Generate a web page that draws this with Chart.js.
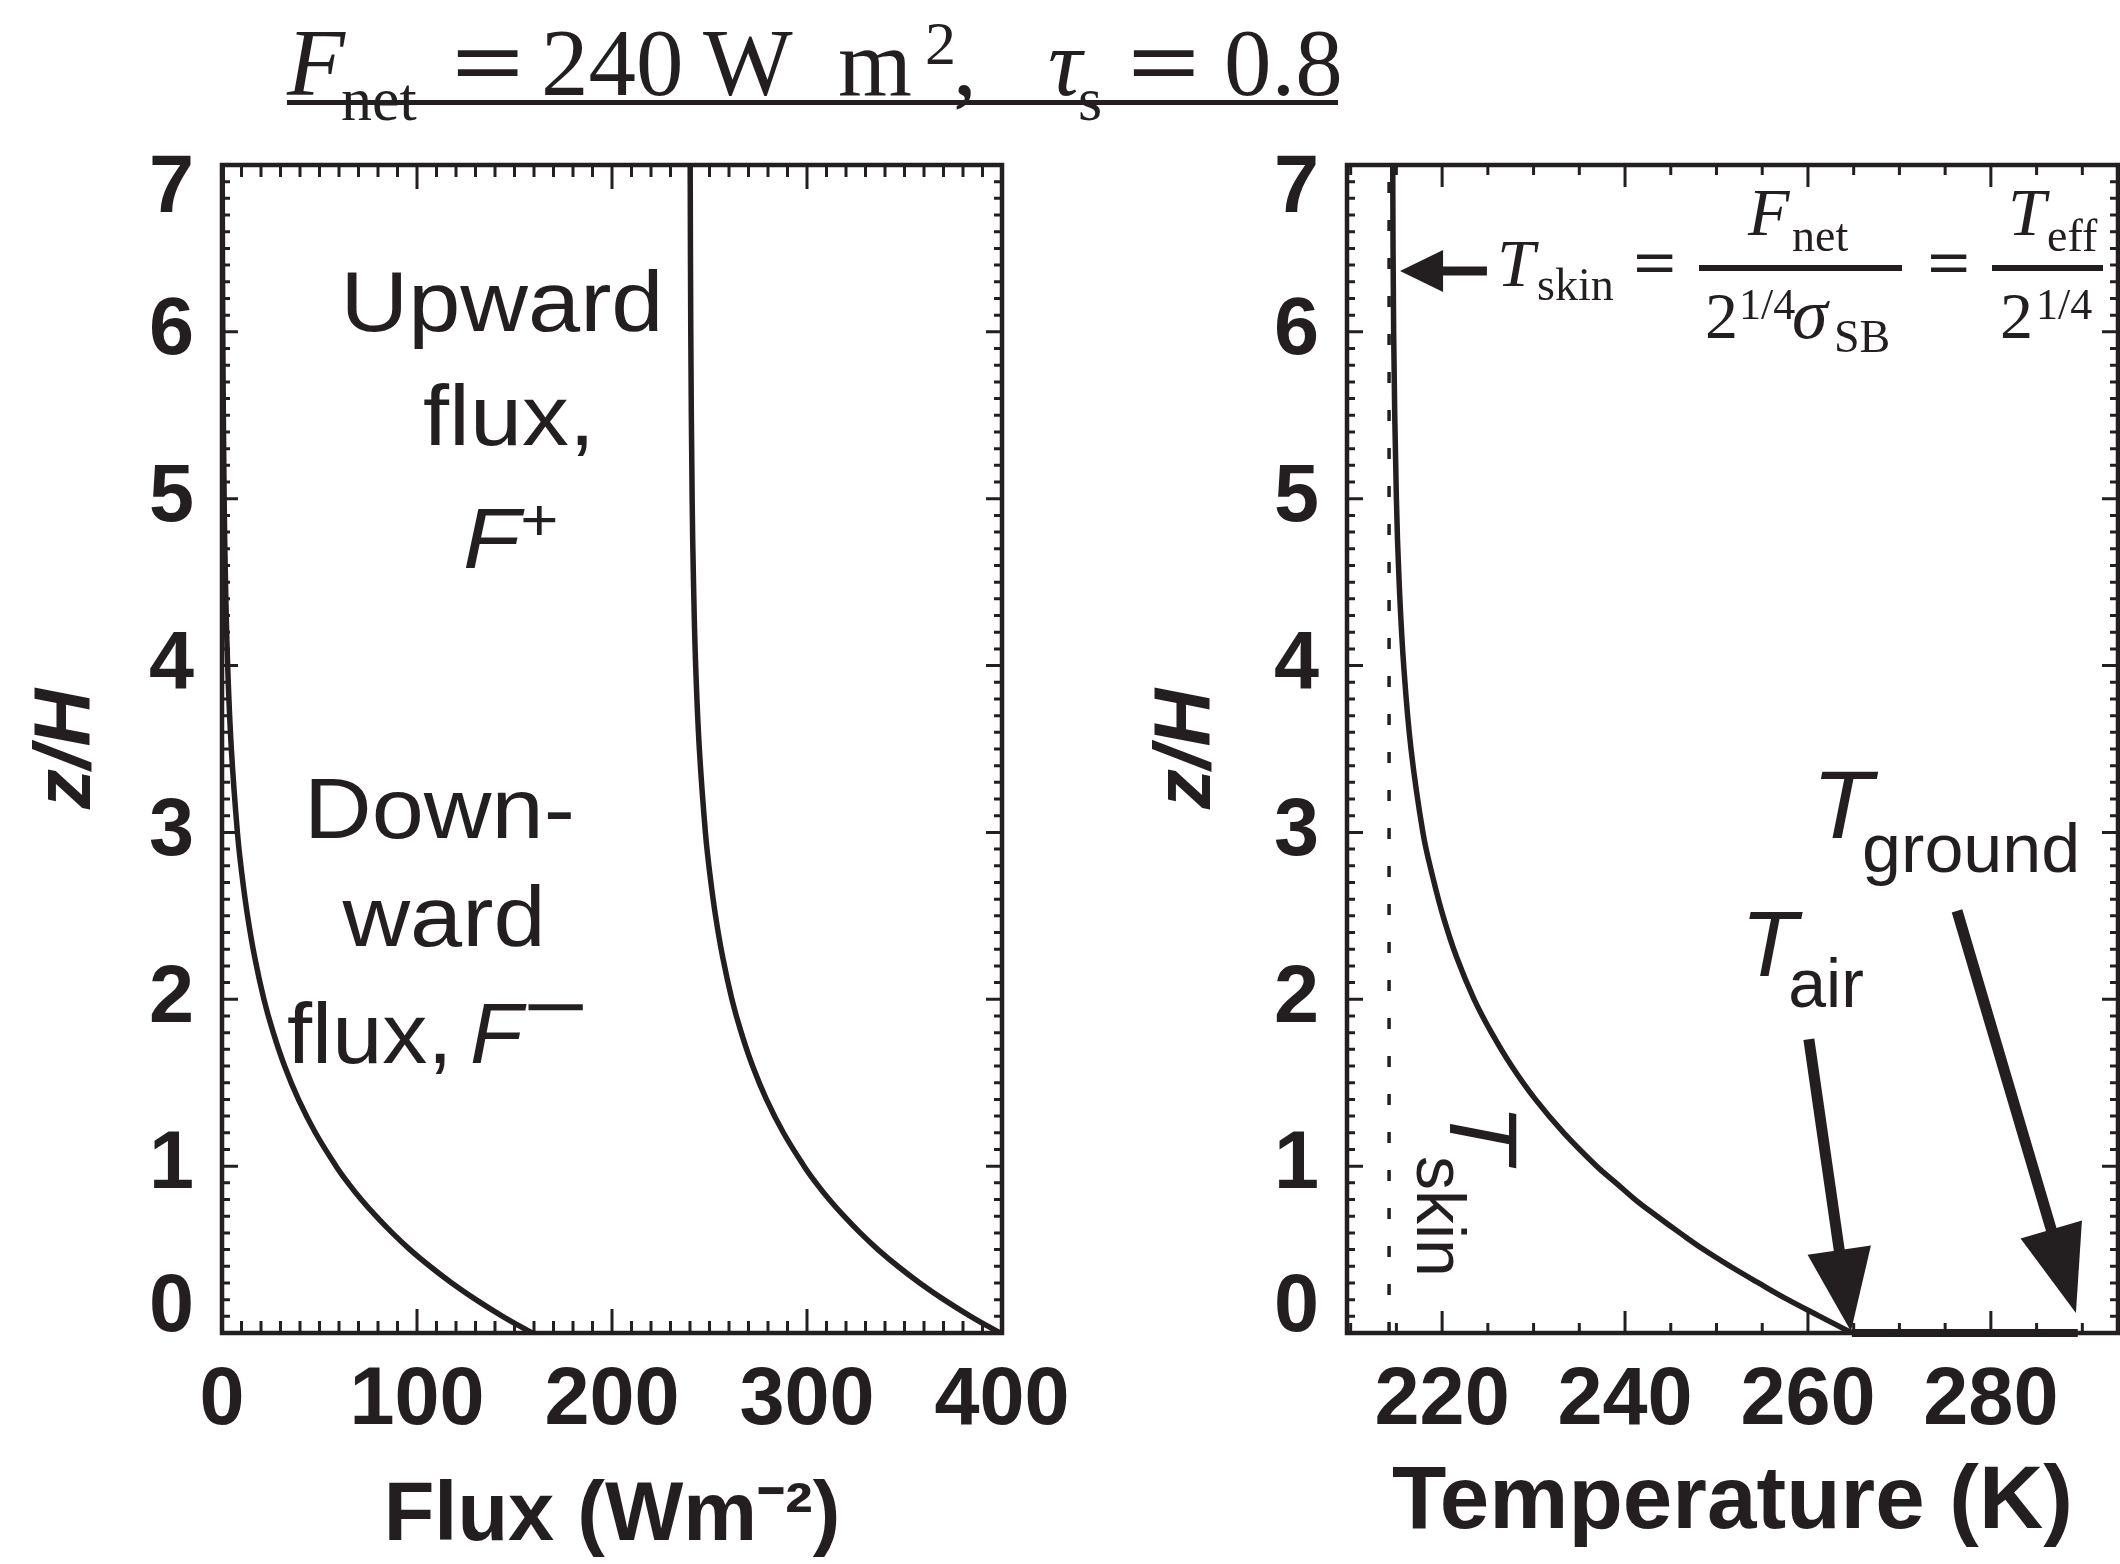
<!DOCTYPE html>
<html><head><meta charset="utf-8"><title>Flux and temperature profiles, F_net = 240 W m^2, tau_s = 0.8</title>
<script src="https://cdn.jsdelivr.net/npm/chart.js@4.4.1/dist/chart.umd.min.js"></script>
<style>
html,body{margin:0;padding:0;background:#fff;}
body{width:2120px;height:1564px;position:relative;overflow:hidden;}
canvas{position:absolute;top:0;}
.lbl{position:absolute;line-height:0;white-space:nowrap;color:#231f20;}
.rule{position:absolute;background:#231f20;}
</style></head><body>
<canvas id="fluxChart" width="1100" height="1564" style="left:0"></canvas>
<canvas id="tempChart" width="1020" height="1564" style="left:1100px"></canvas>
<script>
// ---------------- data ----------------
const zLevels      = [0, 0.1, 0.2, 0.3, 0.4, 0.5, 0.6, 0.7, 0.8, 0.9, 1.0, 1.2, 1.4, 1.6, 1.8, 2.0, 2.25, 2.5, 2.75, 3.0, 3.5, 4.0, 4.5, 5.0, 6.0, 7.0];
const downwardFlux = [159, 143.9, 130.2, 117.8, 106.6, 96.4, 87.3, 79.0, 71.4, 64.6, 58.5, 47.9, 39.2, 32.1, 26.3, 21.5, 16.8, 13.1, 10.2, 7.9, 4.8, 2.9, 1.8, 1.1, 0.4, 0.1];
const upwardFlux   = [399, 383.9, 370.2, 357.8, 346.6, 336.4, 327.3, 319.0, 311.4, 304.6, 298.5, 287.9, 279.2, 272.1, 266.3, 261.5, 256.8, 253.1, 250.2, 247.9, 244.8, 242.9, 241.8, 241.1, 240.4, 240.1];
const airTemp      = [264.8, 261.3, 257.8, 254.6, 251.5, 248.6, 246.0, 243.5, 241.1, 239.0, 236.9, 233.3, 230.2, 227.6, 225.4, 223.5, 221.6, 220.1, 218.9, 217.9, 216.6, 215.8, 215.3, 215.0, 214.7, 214.6];
const skinTemp     = 214.2;          // dashed T_skin line
const surfaceAirTemp = 264.8;        // T_air at z = 0
const groundTemp   = 289.5;          // T_ground
const heightTicks  = [0, 1, 2, 3, 4, 5, 6, 7];
const fluxTicks    = [0, 100, 200, 300, 400];
const tempTicks    = [220, 240, 260, 280];

// ---------------- styling ----------------
const INK = '#231f20';
const SANS = "'Liberation Sans', Arial, Helvetica, sans-serif";
const SERIF = "'Liberation Serif', 'Times New Roman', serif";
Chart.defaults.font.family = SANS;
Chart.defaults.color = INK;

const tickFont  = {size: 81, weight: 'bold', lineHeight: 1};

// inward minor/major ticks on all four sides + frame
const axisFrame = {
  id: 'axisFrame',
  afterDatasetsDraw(chart, args, o) {
    const {ctx, chartArea: a, scales: {x, y}} = chart;
    ctx.save();
    ctx.strokeStyle = INK;
    ctx.lineWidth = 3;
    ctx.beginPath();
    const xr = Math.round(o.xMajor / o.xMinor);
    for (let k = Math.ceil(x.min / o.xMinor - 1e-9); k * o.xMinor <= x.max + 1e-9; k++) {
      const len = (k % xr === 0) ? o.xMajorLen : o.xMinorLen;
      const p = x.getPixelForValue(k * o.xMinor);
      ctx.moveTo(p, a.bottom); ctx.lineTo(p, a.bottom - len);
      ctx.moveTo(p, a.top); ctx.lineTo(p, a.top + len);
    }
    const yr = Math.round(o.yMajor / o.yMinor);
    for (let k = Math.ceil(y.min / o.yMinor - 1e-9); k * o.yMinor <= y.max + 1e-9; k++) {
      const len = (k % yr === 0) ? o.yMajorLen : o.yMinorLen;
      const p = y.getPixelForValue(k * o.yMinor);
      ctx.moveTo(a.left, p); ctx.lineTo(a.left + len, p);
      ctx.moveTo(a.right, p); ctx.lineTo(a.right - len, p);
    }
    ctx.stroke();
    ctx.lineWidth = 4.5;
    ctx.strokeRect(a.left, a.top, a.right - a.left, a.bottom - a.top);
    ctx.restore();
  }
};

// filled-head arrows, positioned in data units through the chart scales
const arrowPlugin = {
  id: 'arrowPlugin',
  afterDraw(chart, args, o) {
    if (!o.arrows) return;
    const {ctx, scales: {x, y}} = chart;
    ctx.save();
    ctx.fillStyle = INK; ctx.strokeStyle = INK; ctx.lineCap = 'butt';
    for (const ar of o.arrows) {
      const tx = x.getPixelForValue(ar.tail[0]), ty = y.getPixelForValue(ar.tail[1]);
      const hx = x.getPixelForValue(ar.tip[0]),  hy = y.getPixelForValue(ar.tip[1]);
      const dx = hx - tx, dy = hy - ty, L = Math.hypot(dx, dy);
      const ux = dx / L, uy = dy / L, px = -uy, py = ux;
      const bx = hx - ux * ar.head, by = hy - uy * ar.head;
      ctx.lineWidth = ar.shaft;
      ctx.beginPath(); ctx.moveTo(tx, ty); ctx.lineTo(bx + ux * 2, by + uy * 2); ctx.stroke();
      ctx.beginPath();
      ctx.moveTo(hx, hy);
      ctx.lineTo(bx + px * ar.half, by + py * ar.half);
      ctx.lineTo(bx - px * ar.half, by - py * ar.half);
      ctx.closePath(); ctx.fill();
    }
    ctx.restore();
  }
};

function pts(xs) { return zLevels.map((z, i) => ({x: xs[i], y: z})); }
function curve(xs) {
  return {data: pts(xs), borderColor: INK, borderWidth: 5.5, pointRadius: 0, tension: 0.4, fill: false};
}
// the end labels sit inside the axis span, as in the original figure
function heightLabel(v) {
  if (v === 7) return ['', '7'];
  if (v === 0) return ['0', ''];
  return String(v);
}
function yScale(titlePadTop, width) {
  return {
    type: 'linear', position: 'left', min: 0, max: 7,
    grid: {display: false}, border: {display: false},
    ticks: {padding: 20, font: {size: 81, weight: 'bold', lineHeight: 0.6}, color: INK, callback: heightLabel},
    afterBuildTicks: s => { s.ticks = heightTicks.map(v => ({value: v})); },
    afterFit: s => { s.width = width; },
    title: {display: true, text: 'z/H', color: INK,
            font: {size: 80, weight: 'bold', style: 'italic', lineHeight: 1},
            padding: {top: titlePadTop, bottom: 0}}
  };
}
function xScale(min, max, ticksArr, title, titleSize, titlePadBottom) {
  return {
    type: 'linear', position: 'bottom', min, max,
    grid: {display: false}, border: {display: false},
    ticks: {padding: 20, font: tickFont, color: INK, includeBounds: false},
    afterBuildTicks: s => { s.ticks = ticksArr.map(v => ({value: v})); },
    afterFit: s => { s.height = 231; },
    title: {display: true, text: title, color: INK, font: {size: titleSize, weight: 'bold', lineHeight: 1},
            padding: {top: 0, bottom: titlePadBottom}}
  };
}
const common = {responsive: false, animation: false, devicePixelRatio: 1, indexAxis: 'y', events: []};

new Chart(document.getElementById('fluxChart'), {
  type: 'line',
  data: {datasets: [curve(downwardFlux), curve(upwardFlux)]},
  options: Object.assign({}, common, {
    layout: {padding: {left: 0, right: 98, top: 165, bottom: 0}},
    plugins: {legend: {display: false}, tooltip: {enabled: false},
      axisFrame: {xMinor: 10, xMajor: 100, xMajorLen: 24, xMinorLen: 12, yMinor: 0.1, yMajor: 1, yMajorLen: 16, yMinorLen: 8}},
    scales: {x: xScale(0, 400, fluxTicks, 'Flux (Wm\u207B\u00B2)', 83, 5), y: yScale(28, 222)}
  }),
  plugins: [axisFrame]
});

new Chart(document.getElementById('tempChart'), {
  type: 'line',
  data: {datasets: [
    curve(airTemp),
    {data: [{x: skinTemp, y: 0}, {x: skinTemp, y: 7}], borderColor: INK, borderWidth: 3.5, borderDash: [11, 27], pointRadius: 0},
    {data: [{x: surfaceAirTemp, y: 0}, {x: groundTemp, y: 0}], borderColor: INK, borderWidth: 8, pointRadius: 0, clip: false}
  ]},
  options: Object.assign({}, common, {
    layout: {padding: {left: 0, right: 2, top: 165, bottom: 0}},
    plugins: {legend: {display: false}, tooltip: {enabled: false},
      axisFrame: {xMinor: 5, xMajor: 20, xMajorLen: 22, xMinorLen: 10, yMinor: 0.1, yMajor: 1, yMajorLen: 16, yMinorLen: 8},
      arrowPlugin: {arrows: [
        {tail: [224.9, 6.365], tip: [215.4, 6.365], head: 43, half: 21, shaft: 9},
        {tail: [260.1, 1.76],  tip: [264.7, 0.01],  head: 82, half: 32, shaft: 11},
        {tail: [276.3, 2.53],  tip: [289.3, 0.12],  head: 87, half: 32, shaft: 11}
      ]}},
    scales: {x: xScale(209.6, 293.9, tempTicks, 'Temperature (K)', 89, 16), y: yScale(48, 247)}
  }),
  plugins: [axisFrame, arrowPlugin]
});

// ---------------- text annotations (real DOM text) ----------------
const K = {sans: 0.3465, serif: 0.3375};
function lbl(html, x, base, size, fam, o = {}, parent = document.body) {
  const el = document.createElement('div');
  el.className = 'lbl';
  el.innerHTML = html;
  el.style.left = x + 'px';
  el.style.top = (base - K[fam] * size) + 'px';
  el.style.fontSize = size + 'px';
  el.style.fontFamily = fam === 'sans' ? SANS : SERIF;
  if (o.italic) el.style.fontStyle = 'italic';
  if (o.bold) el.style.fontWeight = 'bold';
  let tf = '';
  if (o.center) tf += 'translateX(-50%) ';
  if (o.sx) tf += 'scaleX(' + o.sx + ')';
  if (tf) { el.style.transform = tf; el.style.transformOrigin = o.center ? '50% 0' : '0 0'; }
  parent.appendChild(el);
  return el;
}
function rule(x, y, w, h) {
  const r = document.createElement('div');
  r.className = 'rule';
  Object.assign(r.style, {left: x + 'px', top: y + 'px', width: w + 'px', height: h + 'px'});
  document.body.appendChild(r);
}

// figure title
lbl('F', 287, 95, 95, 'serif', {italic: true});
lbl('net', 341, 120, 62, 'serif');
lbl('=', 488, 95, 95, 'serif', {center: true, sx: 1.35, bold: true});
lbl('240', 541, 95, 95, 'serif');
lbl('W', 703, 95, 95, 'serif');
lbl('m', 838, 95, 95, 'serif');
lbl('2', 925, 64, 62, 'serif');
lbl(',', 953, 95, 95, 'serif');
lbl('\u03C4', 1048, 95, 95, 'serif', {italic: true});
lbl('s', 1078, 120, 62, 'serif');
lbl('=', 1164, 95, 95, 'serif', {center: true, sx: 1.35, bold: true});
lbl('0.8', 1224, 95, 95, 'serif');
rule(287, 100, 1051, 5);

// left panel labels
lbl('Upward', 502, 331, 86, 'sans', {center: true, sx: 1.09});
lbl('flux,', 509, 445, 86, 'sans', {center: true, sx: 1.09});
lbl('<i>F</i><span style="font-size:60px;position:relative;top:-28px">+</span>', 463, 568, 86, 'sans', {sx: 1.09});
lbl('Down-', 304, 838, 86, 'sans', {sx: 1.09});
lbl('ward', 444, 946, 86, 'sans', {center: true, sx: 1.09});
lbl('flux,', 287, 1063, 86, 'sans', {sx: 1.05});
lbl('<i>F</i><span style="position:relative;top:-27px;display:inline-block;transform:scaleX(1.3);transform-origin:0 0">\u2212</span>', 470, 1063, 86, 'sans');

// right panel labels
lbl('<i>T</i><span style="font-size:68px;position:relative;top:31px;margin-left:-9px">air</span>', 1741, 976, 92, 'sans');
lbl('<i>T</i><span style="font-size:68px;position:relative;top:34px;margin-left:-10px">ground</span>', 1812, 838, 96, 'sans', {sx: 1.03});

// rotated T_skin label
const rot = document.createElement('div');
Object.assign(rot.style, {position: 'absolute', left: '1450px', top: '1104px', width: '0', height: '0',
  transform: 'rotate(90deg)', transformOrigin: '0 0'});
document.body.appendChild(rot);
lbl('T', 0, 0, 96, 'sans', {italic: true}, rot);
lbl('skin', 52, 33, 68, 'sans', {}, rot);

// T_skin equation
lbl('T', 1497, 286, 68, 'serif', {italic: true});
lbl('skin', 1537, 301, 46, 'serif');
lbl('=', 1655, 285, 66, 'serif', {center: true, sx: 1.15, bold: true});
rule(1699, 265, 203, 6);
lbl('F', 1748, 235, 68, 'serif', {italic: true});
lbl('net', 1792, 252, 46, 'serif');
lbl('2', 1705, 338, 66, 'serif');
lbl('1/4', 1739, 320, 44, 'serif');
lbl('\u03C3', 1792, 338, 72, 'serif', {italic: true});
lbl('SB', 1834, 353, 46, 'serif');
lbl('=', 1949, 285, 66, 'serif', {center: true, sx: 1.15, bold: true});
rule(1992, 265, 111, 6);
lbl('T', 2008, 235, 68, 'serif', {italic: true});
lbl('eff', 2047, 252, 46, 'serif');
lbl('2', 2000, 338, 66, 'serif');
lbl('1/4', 2036, 320, 44, 'serif');
</script></body></html>
